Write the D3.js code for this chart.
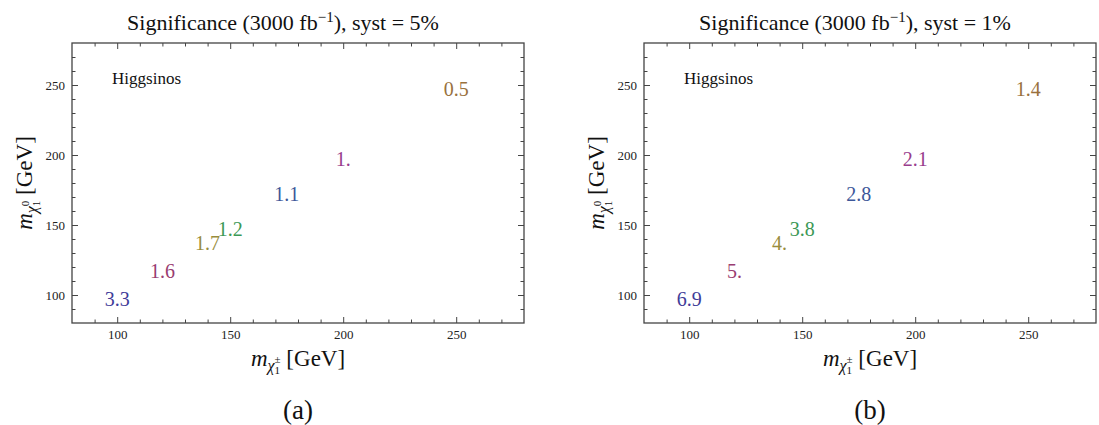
<!DOCTYPE html>
<html><head><meta charset="utf-8">
<script src="https://cdn.jsdelivr.net/npm/d3@7"></script>
<style>
body{margin:0;background:#fff}
svg{display:block}
text{font-family:"Liberation Serif","Times New Roman",serif}
</style></head><body>
<svg id="chart" width="1099" height="425"></svg>
<script>
// Higgsino benchmark points: chargino and lightest-neutralino masses (GeV)
const charginoMass   = [100, 120, 140, 150, 175, 200, 250];
const neutralinoMass = [97, 117, 137, 147, 172, 197, 247];
// Expected significance at 3000 fb^-1 for two systematic uncertainties
const significanceSyst5 = [3.3, 1.6, 1.7, 1.2, 1.1, 1.0, 0.5];
const significanceSyst1 = [6.9, 5.0, 4.0, 3.8, 2.8, 2.1, 1.4];
const systLabels = ["5%", "1%"];
const panelCaptions = ["(a)", "(b)"];
// Axis range and tick values (both axes share them)
const axisDomain = [80, 280];
const majorTicks = [100, 150, 200, 250];
const minorTicks = [90, 110, 120, 130, 140, 160, 170, 180, 190, 210, 220, 230, 240, 260, 270];
// One colour per benchmark point (classic Mathematica plot hues)
const pointColors = ["#3f3d99", "#993d71", "#998d3d", "#3d9956", "#3d5799", "#993d8d", "#99713d"];

const panelValues = [significanceSyst5, significanceSyst1];

// Layout
const panelLefts = [72, 644];
const panelTop = 43, W = 452, H = 280;
const frameColor = "#444";

const svg = d3.select("#chart");

// Mathematica prints whole reals with a trailing dot ("1.", "5.")
const fmtValue = v => Number.isInteger(v) ? v + "." : String(v);

function styleAxis(sel) {
  sel.select(".domain").remove();
  sel.selectAll("line").attr("stroke", frameColor).attr("stroke-width", 1);
  sel.selectAll("text").attr("font-family", '"Liberation Serif", serif')
     .attr("font-size", 13).attr("fill", "#222");
}

function massLabel(sel, sup) {
  sel.append("tspan").attr("font-style", "italic").text("m");
  sel.append("tspan").attr("font-style", "italic").attr("font-size", 16).attr("dy", 5).text("\u03c7");
  sel.append("tspan").attr("font-size", 11).attr("dy", 3).text("1");
  sel.append("tspan").attr("font-size", 11).attr("dx", -5.5).attr("dy", -11).text(sup);
  sel.append("tspan").attr("dy", 3).text(" [GeV]");
}

panelValues.forEach((values, p) => {
  const g = svg.append("g").attr("transform", `translate(${panelLefts[p]},${panelTop})`);
  const x = d3.scaleLinear().domain(axisDomain).range([0, W]);
  const y = d3.scaleLinear().domain(axisDomain).range([H, 0]);

  // Inward ticks on all four sides, labels only bottom and left
  const addTicks = (axisFn, scale, transform, ticks, size, labels) => {
    const ax = axisFn(scale).tickValues(ticks).tickSize(-size).tickPadding(7)
      .tickFormat(labels ? d3.format("d") : "");
    g.append("g").attr("transform", transform).call(ax).call(styleAxis);
  };
  addTicks(d3.axisBottom, x, `translate(0,${H})`, majorTicks, 6, true);
  addTicks(d3.axisBottom, x, `translate(0,${H})`, minorTicks, 3.5, false);
  addTicks(d3.axisLeft, y, `translate(0,0)`, majorTicks, 6, true);
  addTicks(d3.axisLeft, y, `translate(0,0)`, minorTicks, 3.5, false);
  addTicks(d3.axisTop, x, `translate(0,0)`, majorTicks, 6, false);
  addTicks(d3.axisTop, x, `translate(0,0)`, minorTicks, 3.5, false);
  addTicks(d3.axisRight, y, `translate(${W},0)`, majorTicks, 6, false);
  addTicks(d3.axisRight, y, `translate(${W},0)`, minorTicks, 3.5, false);

  // Frame
  g.append("rect").attr("width", W).attr("height", H)
    .attr("fill", "none").attr("stroke", frameColor).attr("stroke-width", 1.3);

  // Significance values written at each benchmark point
  g.selectAll("text.sig").data(values).join("text")
    .attr("class", "sig")
    .attr("x", (d, i) => x(charginoMass[i]))
    .attr("y", (d, i) => y(neutralinoMass[i]))
    .attr("dy", "0.34em")
    .attr("text-anchor", "middle")
    .attr("font-size", 20)
    .attr("fill", (d, i) => pointColors[i])
    .text(fmtValue);

  // In-plot label
  g.append("text").attr("x", x(113)).attr("y", y(254.5)).attr("dy", "0.34em")
    .attr("text-anchor", "middle").attr("font-size", 17).attr("fill", "#111")
    .text("Higgsinos");

  // Title
  const t = svg.append("text").attr("x", panelLefts[p] + 211).attr("y", 30)
    .attr("text-anchor", "middle").attr("font-size", 22).attr("fill", "#111");
  t.append("tspan").text("Significance (3000 fb");
  t.append("tspan").attr("font-size", 15).attr("dy", -8).text("\u22121");
  t.append("tspan").attr("dy", 8).text(`), syst = ${systLabels[p]}`);

  // x-axis title: m_{chi_1^±} [GeV]
  const xt = g.append("text").attr("x", W / 2).attr("y", H + 43)
    .attr("text-anchor", "middle").attr("font-size", 23).attr("fill", "#111");
  massLabel(xt, "\u00b1");

  // y-axis title: m_{chi_1^0} [GeV]
  const yt = g.append("text").attr("transform", `translate(-40,${H / 2}) rotate(-90)`)
    .attr("text-anchor", "middle").attr("font-size", 23).attr("fill", "#111");
  massLabel(yt, "0");

  // Panel caption
  g.append("text").attr("x", W / 2).attr("y", 376).attr("text-anchor", "middle")
    .attr("font-size", 27).attr("fill", "#111").text(panelCaptions[p]);
});
</script>
</body></html>
